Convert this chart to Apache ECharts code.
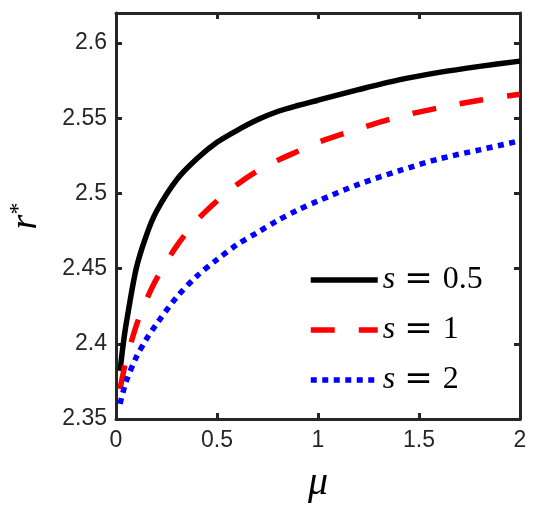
<!DOCTYPE html>
<html>
<head>
<meta charset="utf-8">
<script src="https://cdn.jsdelivr.net/npm/echarts@6/dist/echarts.min.js"></script>
<style>
  html, body { margin: 0; padding: 0; background: #fff; }
  #chart { width: 534px; height: 509px; }
</style>
</head>
<body>
<div id="chart"></div>
<script>
var mu = [0.02, 0.035, 0.05, 0.1, 0.15, 0.2, 0.3, 0.4, 0.5, 0.6, 0.7, 0.8, 0.9, 1.0, 1.2, 1.4, 1.6, 1.8, 2.0];
var rS05 = [2.382, 2.399, 2.413, 2.450, 2.472, 2.488, 2.509, 2.523, 2.534, 2.542, 2.549, 2.5545, 2.5585, 2.562, 2.569, 2.5755, 2.5805, 2.5845, 2.588];
var rS1 = [2.370, 2.380, 2.389, 2.412, 2.429, 2.443, 2.465, 2.482, 2.495, 2.506, 2.515, 2.522, 2.528, 2.534, 2.543, 2.551, 2.557, 2.562, 2.566];
var rS2 = [2.360, 2.368, 2.375, 2.391, 2.403, 2.413, 2.431, 2.445, 2.456, 2.466, 2.474, 2.482, 2.489, 2.495, 2.506, 2.515, 2.523, 2.529, 2.535];
var sLabels = { s05: '0.5', s1: '1', s2: '2' };

function pairs(ys) {
  return mu.map(function (m, i) { return [m, ys[i]]; });
}

var axisColor = '#262626';
var mathFont = 'Liberation Serif';

function boxAxis(pos, extra) {
  var ax = {
    type: 'value',
    position: pos,
    axisLine: { show: true, onZero: false, lineStyle: { color: axisColor, width: 3 } },
    axisTick: { show: true, inside: true, length: 6, lineStyle: { color: axisColor, width: 3 } },
    axisLabel: { show: false },
    splitLine: { show: false }
  };
  return Object.assign(ax, extra);
}

var chart = echarts.init(document.getElementById('chart'));
var option = {
  animation: false,
  backgroundColor: '#fff',
  grid: { left: 116, right: 14, top: 13, bottom: 90, outerBoundsMode: 'none', containLabel: false },
  legend: {
    orient: 'vertical',
    left: 308,
    top: 263,
    padding: 0,
    itemWidth: 67,
    itemHeight: 30,
    itemGap: 16,
    lineStyle: { width: 5.5 },
    itemStyle: { opacity: 0 },
    data: ['s05', 's1', 's2'],
    formatter: function (n) {
      return '{i|s}{e|=}' + sLabels[n];
    },
    textStyle: {
      fontFamily: mathFont,
      fontSize: 32,
      lineHeight: 30,
      color: '#000',
      rich: {
        i: { fontStyle: 'italic', fontFamily: mathFont, fontSize: 32, color: '#000' },
        e: { fontFamily: 'DejaVu Serif', fontSize: 34, padding: [0, 10, 0, 9], color: '#000' }
      }
    }
  },
  xAxis: [
    boxAxis('bottom', {
      min: 0, max: 2, interval: 0.5,
      name: 'μ',
      nameLocation: 'middle',
      nameGap: 44,
      nameTextStyle: { fontFamily: mathFont, fontStyle: 'italic', fontSize: 40, color: '#000' },
      axisLabel: { show: true, margin: 10, color: axisColor, fontFamily: 'Liberation Sans', fontSize: 23 }
    }),
    boxAxis('top', { min: 0, max: 2, interval: 0.5 })
  ],
  yAxis: [
    boxAxis('left', {
      min: 2.35, max: 2.62, interval: 0.05,
      name: '{r|r}{s|*}',
      nameLocation: 'middle',
      nameRotate: 90,
      nameGap: 71,
      nameTextStyle: {
        color: '#000',
        rich: {
          r: { fontFamily: mathFont, fontStyle: 'italic', fontSize: 38 },
          s: { fontFamily: mathFont, fontSize: 24, verticalAlign: 'top', padding: [0, 0, 14, 0] }
        }
      },
      axisLabel: { show: true, showMaxLabel: false, margin: 9, color: axisColor, fontFamily: 'Liberation Sans', fontSize: 23 }
    }),
    boxAxis('right', { min: 2.35, max: 2.62, interval: 0.05 })
  ],
  series: [
    {
      name: 's05', type: 'line', data: pairs(rS05), showSymbol: false, symbol: 'none',
      smooth: 0.3,
      lineStyle: { color: '#000', width: 5.5 }, itemStyle: { color: '#000' }
    },
    {
      name: 's1', type: 'line', data: pairs(rS1), showSymbol: false, symbol: 'none',
      smooth: 0.3,
      lineStyle: { color: '#ff0000', width: 5.5, type: [24, 24], cap: 'butt' }, itemStyle: { color: '#ff0000' }
    },
    {
      name: 's2', type: 'line', data: pairs(rS2), showSymbol: false, symbol: 'none',
      smooth: 0.3,
      lineStyle: { color: '#0000ff', width: 5.5, type: [6, 5.5], cap: 'butt' }, itemStyle: { color: '#0000ff' }
    }
  ]
};
chart.setOption(option);
</script>
</body>
</html>
